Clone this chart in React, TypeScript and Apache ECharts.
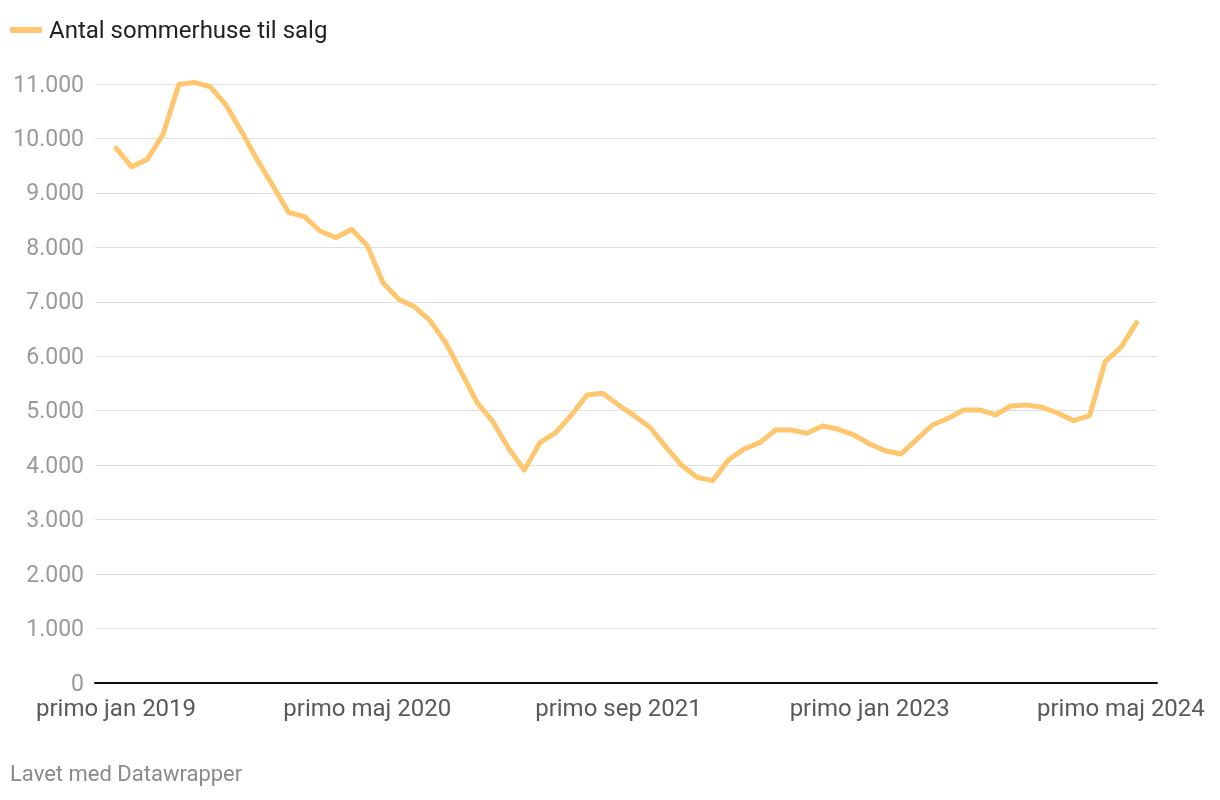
import React, { useEffect, useRef } from "react";
import * as echarts from "echarts";

const seriesName = "Antal sommerhuse til salg";
// monthly, Jan 2019 .. Jun 2024
const values = [
  9820, 9480, 9620, 10080, 10990, 11030, 10950, 10615, 10125, 9605,
  9128, 8637, 8564, 8301, 8178, 8332, 8032, 7352, 7047, 6911,
  6654, 6250, 5699, 5148, 4799, 4310, 3912, 4413, 4597, 4922,
  5289, 5320, 5106, 4909, 4696, 4340, 4004, 3778, 3716, 4095,
  4297, 4413, 4646, 4646, 4586, 4720, 4659, 4555, 4389, 4266,
  4206, 4475, 4738, 4861, 5014, 5014, 4922, 5087, 5106, 5063,
  4953, 4817, 4909, 5901, 6165, 6617,
];
const tickPositions = [0, 16, 32, 48, 64];
const tickLabels = ["primo jan 2019", "primo maj 2020", "primo sep 2021", "primo jan 2023", "primo maj 2024"];
const footer = "Lavet med Datawrapper";

export default function App() {
  const ref = useRef<HTMLDivElement>(null);
  useEffect(() => {
    const chart = echarts.init(ref.current!, null, { renderer: "svg" });
    const font = "Roboto, 'Noto Sans', sans-serif";
    chart.setOption({
      animation: false,
      textStyle: { fontFamily: font },
      grid: { left: 95, right: 63, top: 84, bottom: 117 },
      legend: {
        left: 5,
        top: 13,
        icon: "roundRect",
        itemWidth: 32,
        itemHeight: 6,
        textStyle: { fontSize: 24, color: "#222", fontFamily: font, padding: [0, 0, 0, 2] },
        data: [seriesName],
      },
      xAxis: {
        type: "value",
        min: -1.34,
        max: 66.3,
        axisLine: { show: true, onZero: false, lineStyle: { color: "#111", width: 2 } },
        axisTick: { show: false },
        splitLine: { show: false },
        axisLabel: {
          customValues: tickPositions,
          formatter: (v: number) => tickLabels[tickPositions.indexOf(Math.round(v))] ?? "",
          fontSize: 24,
          lineHeight: 24,
          color: "#595959",
          margin: 13,
          fontFamily: font,
        },
      },
      yAxis: {
        type: "value",
        min: 0,
        max: 11000,
        interval: 1000,
        axisLine: { show: false },
        axisTick: { show: false },
        splitLine: { lineStyle: { color: "#e0e0e0", width: 1 } },
        axisLabel: {
          fontSize: 23,
          lineHeight: 22,
          color: "#9a9a9a",
          margin: 11,
          fontFamily: font,
          formatter: (v: number) => String(v).replace(/\B(?=(\d{3})+(?!\d))/g, "."),
        },
      },
      graphic: [
        {
          type: "text",
          left: 10,
          top: 762,
          style: { text: footer, fontSize: 22, fill: "#8a8a8a", fontFamily: font },
        },
      ],
      series: [
        {
          name: seriesName,
          type: "line",
          data: values.map((v, i) => [i, v]),
          showSymbol: false,
          symbol: "none",
          clip: false,
          lineStyle: { color: "#fec76f", width: 5, cap: "round", join: "round" },
          itemStyle: { color: "#fec76f" },
        },
      ],
    });
    return () => chart.dispose();
  }, []);
  return <div ref={ref} style={{ position: "fixed", left: 0, top: 0, width: 1220, height: 800 }} />;
}
